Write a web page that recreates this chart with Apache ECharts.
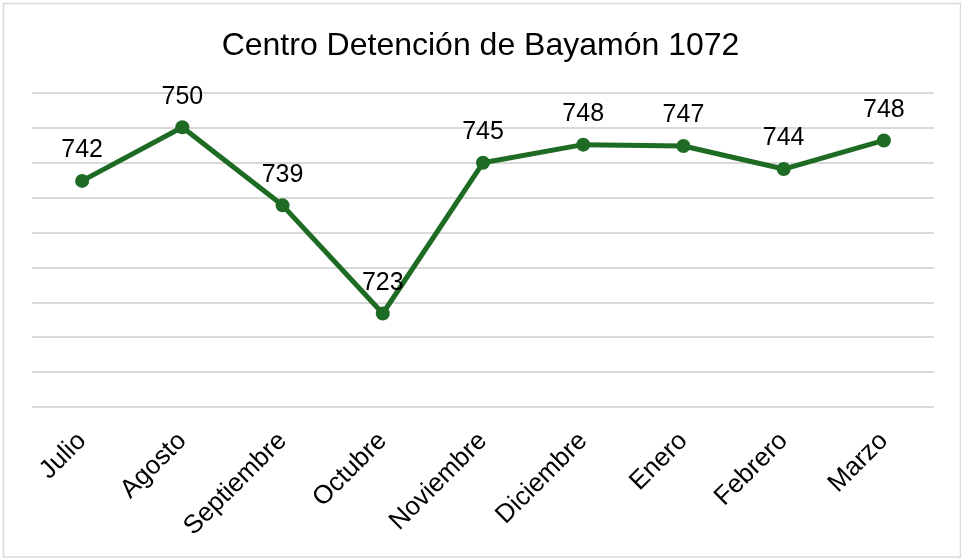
<!DOCTYPE html>
<html>
<head>
<meta charset="UTF-8">
<title></title>
<script src="https://cdn.jsdelivr.net/npm/echarts@6/dist/echarts.min.js"></script>
<style>
  html, body { margin: 0; padding: 0; background: #fff; }
</style>
</head>
<body>
<div id="main" style="width:961px;height:559px;"></div>
<script type="text/javascript">
// meses
var meses = ['Julio', 'Agosto', 'Septiembre', 'Octubre', 'Noviembre', 'Diciembre', 'Enero', 'Febrero', 'Marzo'];
// poblacion (etiqueta redondeada)
var poblacion = [742.4, 750.1, 738.9, 723.4, 745.0, 747.6, 747.4, 744.1, 748.2];

var fuente = 'Liberation Sans, Arial, sans-serif';

var option = {
    animation: false,
    title: {
        text: 'Centro Detención de Bayamón 1072',
        left: 'center',
        top: 25,
        textStyle: { fontFamily: fuente, fontSize: 32, fontWeight: 'normal', color: '#000' }
    },
    graphic: [{
        type: 'rect',
        shape: { x: 3.5, y: 3.5, width: 957, height: 553.5 },
        style: { fill: 'none', stroke: '#d9d9d9', lineWidth: 1.5 },
        silent: true
    }],
    grid: { left: 32, right: 27, top: 93, bottom: 152, containLabel: false },
    xAxis: {
        type: 'category',
        data: meses,
        boundaryGap: true,
        axisLine: { show: false },
        axisTick: { show: false },
        axisLabel: {
            rotate: 45,
            margin: 30,
            fontFamily: fuente,
            fontSize: 26,
            color: '#000',
            interval: 0
        }
    },
    yAxis: {
        type: 'value',
        min: 710,
        max: 755,
        interval: 5,
        axisLabel: { show: false },
        axisLine: { show: false },
        axisTick: { show: false },
        splitLine: { lineStyle: { color: '#d9d9d9', width: 2 } }
    },
    series: [{
        type: 'line',
        data: poblacion,
        symbol: 'circle',
        symbolSize: 14,
        lineStyle: { color: '#1e6b24', width: 5 },
        itemStyle: { color: '#1e6b24' },
        label: {
            show: true,
            position: 'top',
            distance: 11,
            fontFamily: fuente,
            fontSize: 25,
            color: '#000',
            formatter: function (p) { return Math.round(p.value); }
        }
    }]
};

var myChart = echarts.init(document.getElementById('main'));
myChart.setOption(option);
</script>
</body>
</html>
